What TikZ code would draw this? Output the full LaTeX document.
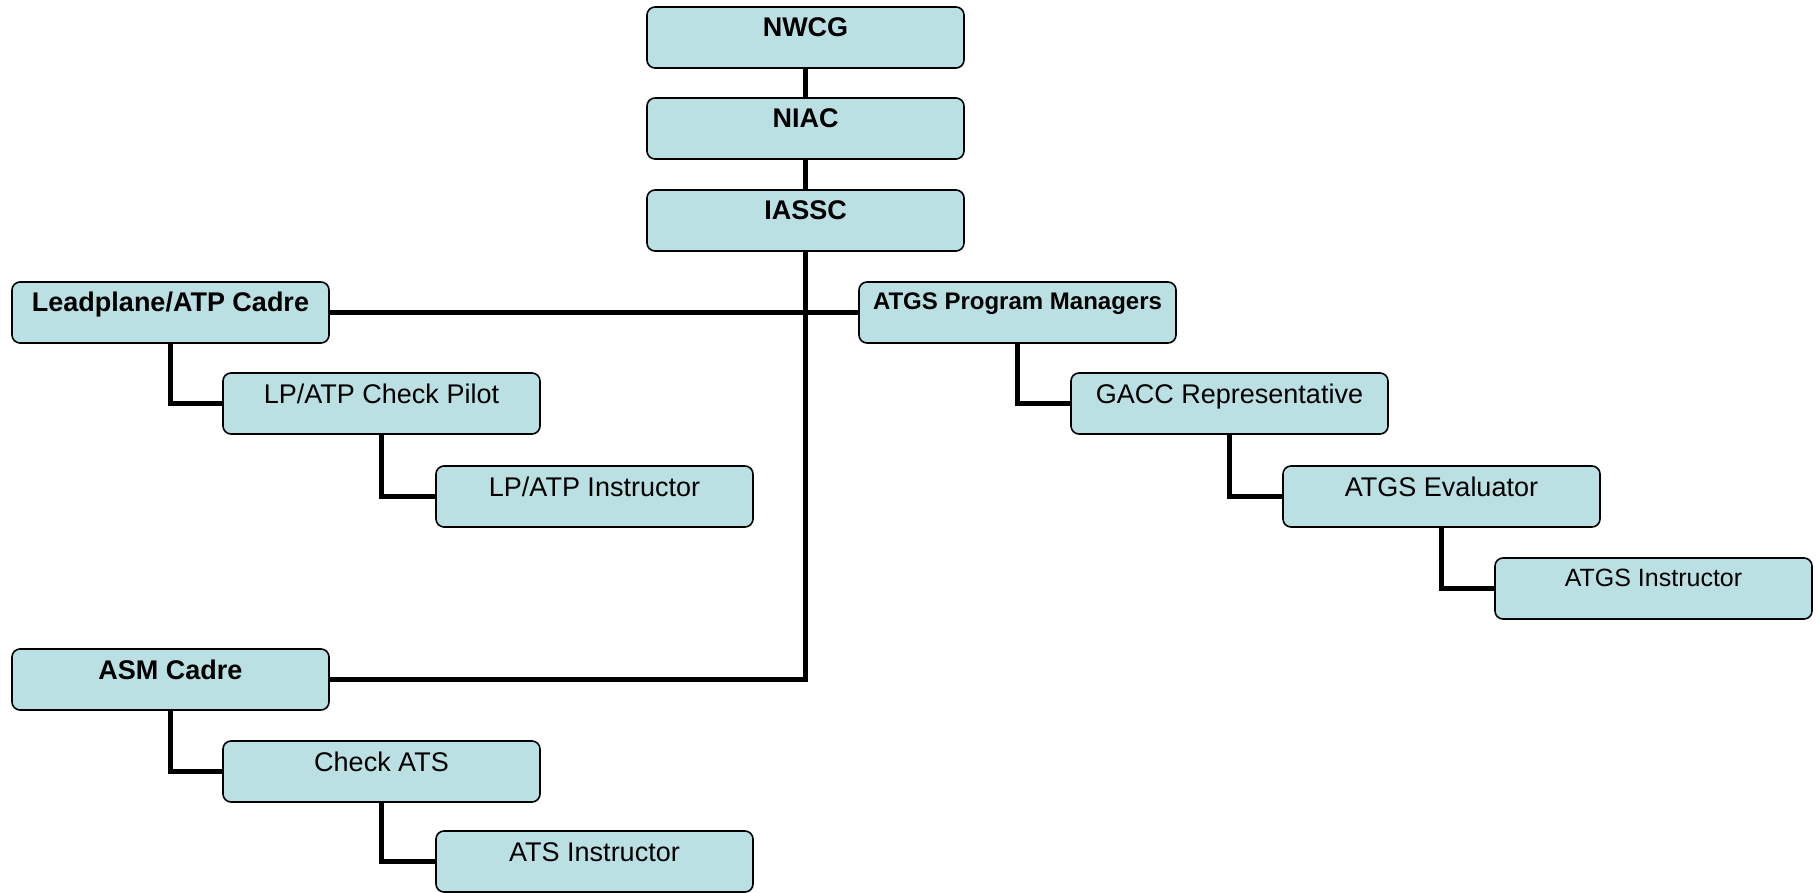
\documentclass[tikz,border=0pt]{standalone}
\usepackage{fontspec}
\setmainfont{Liberation Sans}
\definecolor{boxfill}{RGB}{187,224,227}
\begin{document}
\begin{tikzpicture}[x=1pt,y=-1pt,
  orgbox/.style={draw=black, line width=1.6pt, fill=boxfill, rounded corners=8pt,
    rectangle, anchor=north west, minimum width=317pt, minimum height=61pt,
    inner xsep=0pt, inner ysep=0pt, outer sep=0pt, text height=30pt, text depth=31pt,
    font=\fontsize{27}{32}\selectfont},
  bold/.style={font=\fontsize{27}{32}\selectfont\bfseries},
  smallbold/.style={font=\fontsize{24}{28}\selectfont\bfseries, text height=28pt, text depth=33pt},
  smallreg/.style={font=\fontsize{25}{30}\selectfont, text height=28pt, text depth=33pt},
  conn/.style={draw=black, line width=5pt}]
\useasboundingbox (0,0) rectangle (1818,893);
% nodes
\node[orgbox,bold] (nwcg) at (647,7) {NWCG};
\node[orgbox,bold] (niac) at (647,98) {NIAC};
\node[orgbox,bold] (iassc) at (647,190) {IASSC};
\node[orgbox,bold] (lead) at (12,282) {Leadplane/ATP Cadre};
\node[orgbox,smallbold] (atgs) at (859,282) {ATGS Program Managers};
\node[orgbox] (lpcp) at (223,373) {LP/ATP Check Pilot};
\node[orgbox] (lpi) at (436,466) {LP/ATP Instructor};
\node[orgbox] (gacc) at (1071,373) {GACC Representative};
\node[orgbox] (atgse) at (1283,466) {ATGS Evaluator};
\node[orgbox,smallreg] (atgsi) at (1495,558) {ATGS Instructor};
\node[orgbox,bold] (asm) at (12,649) {ASM Cadre};
\node[orgbox] (cats) at (223,741) {Check ATS};
\node[orgbox] (atsi) at (436,831) {ATS Instructor};
% connectors
\begin{scope}[on background layer/.style={}]
\draw[conn] (nwcg.south) -- (niac.north);
\draw[conn] (niac.south) -- (iassc.north);
\draw[conn] (iassc.south) |- (asm.east);
\draw[conn] (lead.east) -- (atgs.west);
\draw[conn] (lead.south) |- (lpcp.west);
\draw[conn] (lpcp.south) |- (lpi.west);
\draw[conn] (atgs.south) |- (gacc.west);
\draw[conn] (gacc.south) |- (atgse.west);
\draw[conn] (atgse.south) |- (atgsi.west);
\draw[conn] (asm.south) |- (cats.west);
\draw[conn] (cats.south) |- (atsi.west);
\end{scope}
\end{tikzpicture}
\end{document}
